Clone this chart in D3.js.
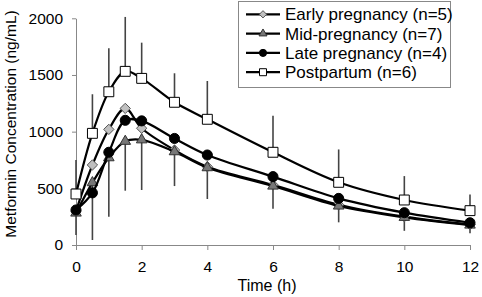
<!DOCTYPE html>
<html>
<head>
<meta charset="utf-8">
<script src="https://cdn.jsdelivr.net/npm/d3@7/dist/d3.min.js"></script>
<style>
  body { margin: 0; background: #fff; }
  svg text { font-family: "Liberation Sans", Arial, sans-serif; fill: #000; }
</style>
</head>
<body>
<svg id="chart"></svg>
<script>
const width = 482, height = 297;

// data
const times = [0, 0.5, 1, 1.5, 2, 3, 4, 6, 8, 10, 12];
const early = [300, 706, 1020, 1205, 1030, 838, 691, 530, 355, 250, 180];
const mid = [282, 550, 770, 915, 928, 823, 682, 520, 344, 244, 176];
const late = [309, 460, 818, 1100, 1095, 940, 794, 603, 411, 285, 196];
const post = [450, 985, 1352, 1532, 1470, 1259, 1109, 818, 553, 397, 303];
const postSD = [300, 345, 383, 480, 315, 256, 338, 322, 290, 211, 143];
const midSD = [194, 506, 520, 436, 443, 303, 276, 200, 144, 119, 73];
const seriesNames = ['Early pregnancy (n=5)', 'Mid-pregnancy (n=7)', 'Late pregnancy (n=4)', 'Postpartum (n=6)'];
const xTicks = [0, 2, 4, 6, 8, 10, 12];
const yTicks = [0, 500, 1000, 1500, 2000];

const marginLeft = 76, marginRight = 12, marginTop = 18.3, marginBottom = 52;

const svg = d3.select('#chart')
  .attr('width', width)
  .attr('height', height)
  .attr('viewBox', [0, 0, width, height]);

const x = d3.scaleLinear().domain([0, 12]).range([marginLeft, width - marginRight]);
const y = d3.scaleLinear().domain([0, 2000]).range([height - marginBottom, marginTop]);

// axes
const axisColor = '#888';
const gx = svg.append('g')
  .attr('transform', `translate(0,${height - marginBottom})`)
  .call(d3.axisBottom(x).tickValues(xTicks).tickSize(5).tickPadding(11).tickSizeOuter(0));
const gy = svg.append('g')
  .attr('transform', `translate(${marginLeft},0)`)
  .call(d3.axisLeft(y).tickValues(yTicks).tickFormat(d3.format('d')).tickSize(4).tickPadding(9).tickSizeOuter(0));
[gx, gy].forEach((g) => {
  g.select('.domain').attr('stroke', axisColor).attr('stroke-width', 1);
  g.selectAll('.tick line').attr('stroke', axisColor);
  g.selectAll('.tick text').style('font-size', '15.5px').attr('fill', '#000');
});

svg.append('text')
  .attr('x', x(6) - 6).attr('y', 291)
  .attr('text-anchor', 'middle')
  .style('font-size', '16px')
  .text('Time (h)');
svg.append('text')
  .attr('transform', `translate(16,124) rotate(-90)`)
  .attr('text-anchor', 'middle')
  .style('font-size', '15.5px')
  .text('Metformin Concentration (ng/mL)');

// error bars
const barColor = '#444';
svg.append('g').selectAll('line')
  .data(times.map((t, i) => ({ t, v: post[i], e: postSD[i] })))
  .join('line')
  .attr('x1', (d) => x(d.t)).attr('x2', (d) => x(d.t))
  .attr('y1', (d) => y(d.v)).attr('y2', (d) => y(d.v + d.e))
  .attr('stroke', barColor).attr('stroke-width', 1.6);
svg.append('g').selectAll('line')
  .data(times.map((t, i) => ({ t, v: mid[i], e: midSD[i] })))
  .join('line')
  .attr('x1', (d) => x(d.t)).attr('x2', (d) => x(d.t))
  .attr('y1', (d) => y(d.v)).attr('y2', (d) => y(d.v - d.e))
  .attr('stroke', barColor).attr('stroke-width', 1.6);

// series
const series = [
  { name: seriesNames[0], values: early, sym: d3.symbolDiamond2, size: 68, lsize: 34, fill: '#c0c0c0', stroke: '#555' },
  { name: seriesNames[1], values: mid, sym: d3.symbolTriangle2, size: 80, lsize: 46, fill: '#777', stroke: '#333' },
  { name: seriesNames[2], values: late, sym: d3.symbolCircle, size: 80, lsize: 40, fill: '#000', stroke: '#000' },
  { name: seriesNames[3], values: post, sym: d3.symbolSquare2, size: 125, lsize: 62, fill: '#fff', stroke: '#000' },
];

const line = d3.line()
  .x((d) => x(d[0]))
  .y((d) => y(d[1]))
  .curve(d3.curveCatmullRom.alpha(0.5));

series.forEach((s) => {
  const pts = times.map((t, i) => [t, s.values[i]]);
  svg.append('path')
    .attr('d', line(pts))
    .attr('fill', 'none')
    .attr('stroke', '#000')
    .attr('stroke-width', 2.2);
  svg.append('g').selectAll('path')
    .data(pts)
    .join('path')
    .attr('transform', (d) => `translate(${x(d[0])},${y(d[1])})`)
    .attr('d', d3.symbol().type(s.sym).size(s.size)())
    .attr('fill', s.fill)
    .attr('stroke', s.stroke)
    .attr('stroke-width', 1);
});

// legend
const legend = svg.append('g');
legend.append('rect')
  .attr('x', 238.5).attr('y', 1.5).attr('width', 212).attr('height', 86)
  .attr('fill', '#fff').attr('stroke', '#888');
series.forEach((s, i) => {
  const cy = 14.3 + i * 19.3;
  legend.append('line')
    .attr('x1', 246).attr('x2', 280).attr('y1', cy).attr('y2', cy)
    .attr('stroke', '#000').attr('stroke-width', 2.2);
  legend.append('path')
    .attr('transform', `translate(263,${cy})`)
    .attr('d', d3.symbol().type(s.sym).size(s.lsize)())
    .attr('fill', s.fill).attr('stroke', s.stroke).attr('stroke-width', 1);
  legend.append('text')
    .attr('x', 285).attr('y', cy + 6)
    .style('font-size', '17px')
    .text(s.name);
});
</script>
</body>
</html>
